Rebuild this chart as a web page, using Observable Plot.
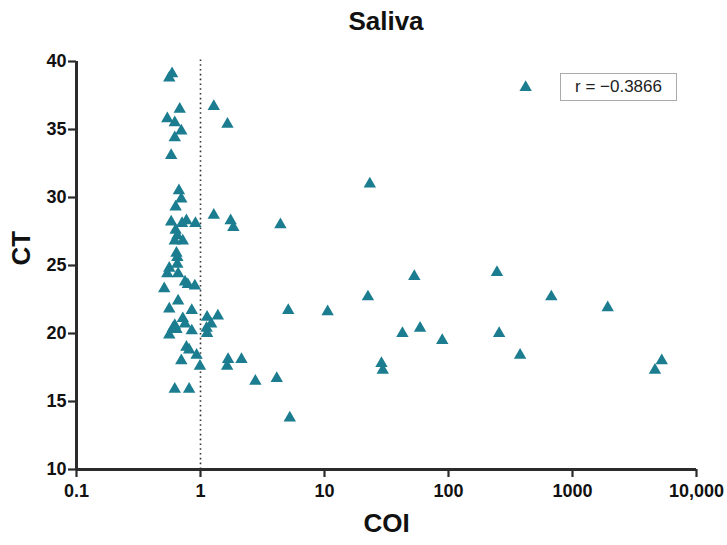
<!DOCTYPE html>
<html>
<head>
<meta charset="utf-8">
<script src="https://cdn.jsdelivr.net/npm/d3@7"></script>
<script src="https://cdn.jsdelivr.net/npm/@observablehq/plot@0.6"></script>
<style>
  body { margin: 0; background: #fff; font-family: "Liberation Sans", Arial, sans-serif; }
  #wrap { position: relative; width: 727px; height: 545px; }
  #title { height: 44px; width: 727px; box-sizing: border-box; padding-left: 45px; text-align: center;
           font-weight: bold; font-size: 26px; line-height: 42px; color: #111; }
  #rbox { position: absolute; left: 560px; top: 73px; width: 117px; height: 28px; box-sizing: border-box;
          border: 1px solid #aaa; font-size: 17px; line-height: 26px; text-align: center; color: #222; background: #fff; }
</style>
</head>
<body>
<div id="wrap">
  <div id="title"></div>
  <div id="chart"></div>
  <div id="rbox"></div>
</div>
<script>
const title = "Saliva";
const xLabel = "COI";
const yLabel = "CT";
const rLabel = "r = \u22120.3866";
const xTicks = [0.1, 1, 10, 100, 1000, 10000];
const xTickLabels = ["0.1", "1", "10", "100", "1000", "10,000"];
const yTicks = [10, 15, 20, 25, 30, 35, 40];
const cutoff = [1];

// COI values (log scale) and CT values
const coi = [
  0.59, 0.56, 0.68, 0.54, 0.62, 0.70, 0.62, 0.58,
  0.67, 0.70, 0.63, 0.58, 0.77, 0.91, 0.71, 0.63, 0.65, 0.72, 0.62,
  0.64, 0.65, 0.65, 0.56, 0.54, 0.66, 0.51, 0.75, 0.79, 0.90,
  0.66, 0.56, 0.85, 0.72, 0.62, 0.60, 0.64, 0.56, 0.75, 0.85,
  0.77, 0.81, 0.93, 0.99, 0.70, 0.62, 0.81,
  1.13, 1.38, 1.22, 1.12, 1.13, 1.67, 1.64, 2.14,
  1.28, 1.65, 1.28, 1.75, 1.84, 4.41,
  23.2, 22.4, 5.1, 10.6, 2.77, 4.12, 5.25, 28.8, 29.5,
  53, 246, 675, 1923, 42.5, 59, 89, 256, 378, 5245, 4624, 419
];
const ct = [
  39.1, 38.8, 36.5, 35.8, 35.5, 34.9, 34.4, 33.1,
  30.5, 29.9, 29.3, 28.2, 28.3, 28.1, 28.1, 27.6, 27.2, 26.8, 26.8,
  25.9, 25.6, 25.1, 24.8, 24.4, 24.4, 23.3, 23.8, 23.6, 23.5,
  22.4, 21.8, 21.7, 21.1, 20.6, 20.4, 20.3, 19.9, 20.7, 20.2,
  19.0, 18.8, 18.4, 17.6, 18.0, 15.9, 15.9,
  21.2, 21.3, 20.7, 20.4, 20.0, 18.1, 17.6, 18.1,
  36.7, 35.4, 28.7, 28.3, 27.8, 28.0,
  31.0, 22.7, 21.7, 21.6, 16.5, 16.7, 13.8, 17.8, 17.3,
  24.2, 24.5, 22.7, 21.9, 20.0, 20.4, 19.5, 20.0, 18.4, 18.0, 17.3, 38.1
];

const data = coi.map((c, i) => ({coi: c, ct: ct[i]}));
const fmt = new Map(xTicks.map((t, i) => [t, xTickLabels[i]]));

document.getElementById("title").textContent = title;
document.getElementById("rbox").textContent = rLabel;

const axisColor = "#2b2b2b";
const chart = Plot.plot({
  width: 727,
  height: 501,
  marginLeft: 76,
  marginRight: 31,
  marginTop: 17,
  marginBottom: 76,
  style: {fontFamily: "'Liberation Sans', Arial, sans-serif", background: "#fff"},
  x: {type: "log", domain: [0.1, 10000]},
  y: {domain: [10, 40]},
  marks: [
    Plot.ruleX(cutoff, {y1: 10, y2: 40.3, stroke: "#333", strokeWidth: 1.6, strokeDasharray: "1.6,3.2"}),
    Plot.axisX({ticks: xTicks, tickFormat: d => fmt.get(d), tickSize: 8, tickPadding: 7,
      fontSize: 18, fontWeight: "bold", stroke: axisColor, strokeWidth: 2.2, color: "#111", label: null}),
    Plot.axisY({ticks: yTicks, tickSize: 8, tickPadding: 2, fontSize: 18, fontWeight: "bold",
      stroke: axisColor, strokeWidth: 2.2, color: "#111", label: null}),
    Plot.ruleX([0.1], {stroke: axisColor, strokeWidth: 3}),
    Plot.ruleY([10], {stroke: axisColor, strokeWidth: 3}),
    Plot.dot(data, {x: "coi", y: "ct", symbol: "triangle", r: 4.6, fill: "#1b7d8f", stroke: "none"}),
    Plot.text([yLabel], {frameAnchor: "left", dx: -55, rotate: -90, fontSize: 26, fontWeight: "bold", fill: "#111"}),
    Plot.text([xLabel], {frameAnchor: "bottom", dy: 62, fontSize: 26, fontWeight: "bold", fill: "#111"})
  ]
});
document.getElementById("chart").appendChild(chart);
</script>
</body>
</html>
